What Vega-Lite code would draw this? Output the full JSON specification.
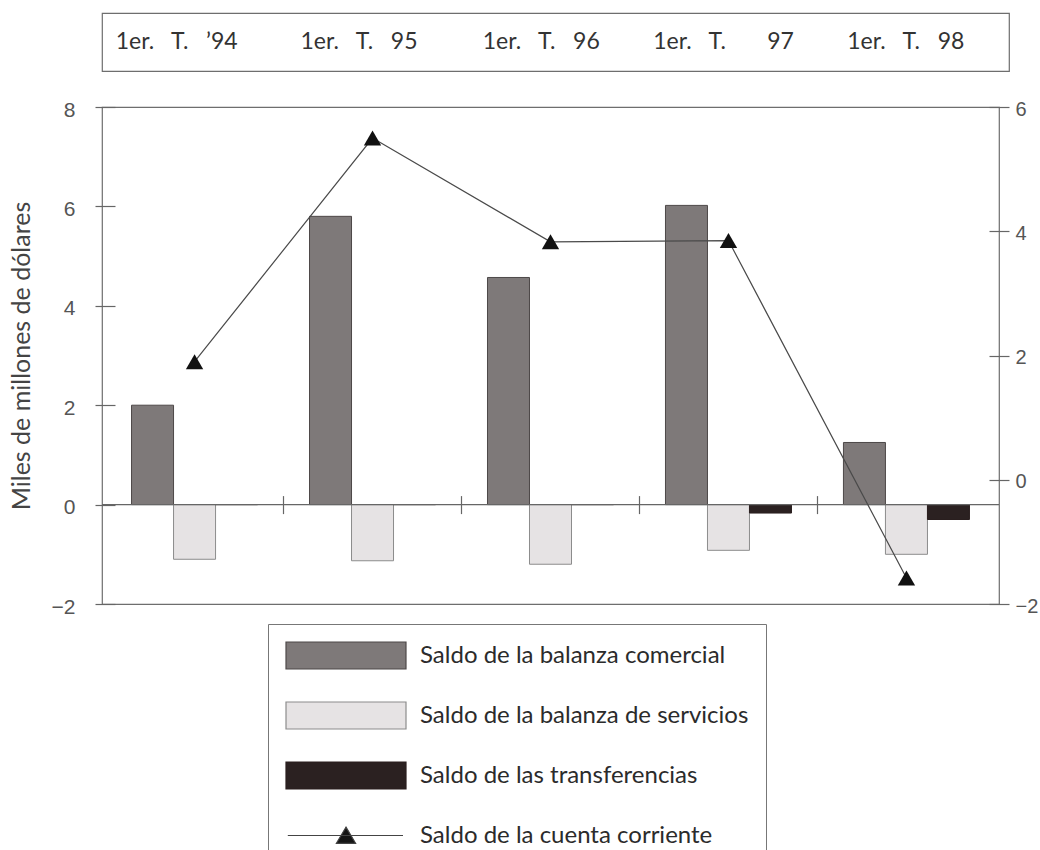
{
  "$schema": "https://vega.github.io/schema/vega-lite/v6.json",
  "background": "white",
  "padding": {"left": 8, "top": 12, "right": 0, "bottom": 0},
  "config": {
    "font": "Lato",
    "axis": {"grid": false},
    "view": {"stroke": "#6e6e6e", "strokeWidth": 1.2}
  },
  "datasets": {
    "periodos": [
      {"periodo": "1994", "etiqueta": "1er.\u00a0\u00a0\u00a0T.\u00a0\u00a0\u00a0’94"},
      {"periodo": "1995", "etiqueta": "1er.\u00a0\u00a0\u00a0T.\u00a0\u00a0\u00a095"},
      {"periodo": "1996", "etiqueta": "1er.\u00a0\u00a0\u00a0T.\u00a0\u00a0\u00a096"},
      {"periodo": "1997", "etiqueta": "1er.\u00a0\u00a0\u00a0T.\u00a0\u00a0\u00a0\u00a0\u00a0\u00a0\u00a097"},
      {"periodo": "1998", "etiqueta": "1er.\u00a0\u00a0\u00a0T.\u00a0\u00a0\u00a098"}
    ],
    "barras": [
      {"periodo": "1994", "serie": "Saldo de la balanza comercial", "valor": 2.0},
      {"periodo": "1994", "serie": "Saldo de la balanza de servicios", "valor": -1.1},
      {"periodo": "1994", "serie": "Saldo de las transferencias", "valor": 0},
      {"periodo": "1995", "serie": "Saldo de la balanza comercial", "valor": 5.8},
      {"periodo": "1995", "serie": "Saldo de la balanza de servicios", "valor": -1.13},
      {"periodo": "1995", "serie": "Saldo de las transferencias", "valor": 0},
      {"periodo": "1996", "serie": "Saldo de la balanza comercial", "valor": 4.57},
      {"periodo": "1996", "serie": "Saldo de la balanza de servicios", "valor": -1.2},
      {"periodo": "1996", "serie": "Saldo de las transferencias", "valor": 0},
      {"periodo": "1997", "serie": "Saldo de la balanza comercial", "valor": 6.02},
      {"periodo": "1997", "serie": "Saldo de la balanza de servicios", "valor": -0.92},
      {"periodo": "1997", "serie": "Saldo de las transferencias", "valor": -0.17},
      {"periodo": "1998", "serie": "Saldo de la balanza comercial", "valor": 1.25},
      {"periodo": "1998", "serie": "Saldo de la balanza de servicios", "valor": -1.0},
      {"periodo": "1998", "serie": "Saldo de las transferencias", "valor": -0.3}
    ],
    "cuenta": [
      {"periodo": "1994", "valor": 1.9},
      {"periodo": "1995", "valor": 5.5},
      {"periodo": "1996", "valor": 3.83},
      {"periodo": "1997", "valor": 3.85},
      {"periodo": "1998", "valor": -1.58}
    ]
  },
  "spacing": 26,
  "resolve": {
    "scale": {"fill": "independent", "stroke": "independent"},
    "legend": {"fill": "independent", "stroke": "independent"}
  },
  "vconcat": [
    {
      "data": {"name": "periodos"},
      "width": 907,
      "height": 58,
      "view": {"stroke": "#6e6e6e", "strokeWidth": 1.2},
      "mark": {"type": "text", "font": "Lato", "fontSize": 23, "color": "#333333", "baseline": "middle", "align": "center"},
      "encoding": {
        "x": {"field": "periodo", "type": "nominal", "sort": null, "scale": {"type": "point", "padding": 0.488, "align": 0.42}, "axis": null},
        "text": {"field": "etiqueta"}
      }
    },
    {
      "width": 897,
      "height": 497,
      "view": {"stroke": "#6e6e6e", "strokeWidth": 1.2},
      "resolve": {"scale": {"y": "independent"}},
      "layer": [
        {
          "layer": [
            {
              "data": {"name": "barras"},
              "mark": {"type": "bar", "strokeWidth": 1},
              "encoding": {
                "x": {
                  "field": "periodo", "type": "nominal", "sort": null,
                  "scale": {"paddingInner": 0.292, "paddingOuter": 0.166},
                  "axis": {
                    "orient": "bottom", "offset": -108.4, "labels": false, "domain": false,
                    "ticks": true, "tickSize": 18, "tickColor": "#666666", "tickWidth": 1.2,
                    "title": null, "values": ["1994", "1995", "1996", "1997"], "bandPosition": 1.206
                  }
                },
                "xOffset": {
                  "field": "serie", "type": "nominal",
                  "sort": ["Saldo de la balanza comercial", "Saldo de la balanza de servicios", "Saldo de las transferencias"],
                  "scale": {"paddingInner": 0, "paddingOuter": 0}
                },
                "y": {
                  "field": "valor", "type": "quantitative",
                  "scale": {"domain": [-2, 8], "nice": false, "zero": false},
                  "axis": {
                    "orient": "left", "values": [-2, 0, 2, 4, 6, 8], "format": "d", "offset": -13, "tickSize": 20,
                    "domain": false, "tickColor": "#666666", "tickWidth": 1.2, "labelPadding": 20,
                    "labelFont": "Liberation Sans", "labelFontSize": 21, "labelColor": "#555555",
                    "labelFlush": false, "labelOffset": 3,
                    "title": "Miles de millones de dólares", "titleFont": "Lato", "titleFontSize": 25,
                    "titleFontWeight": "normal", "titleColor": "#444444", "titlePadding": 17
                  }
                },
                "fill": {
                  "field": "serie", "type": "nominal",
                  "scale": {
                    "domain": ["Saldo de la balanza comercial", "Saldo de la balanza de servicios", "Saldo de las transferencias", "Saldo de la cuenta corriente"],
                    "range": ["#7e7979", "#e6e3e4", "#2b2121", "#151515"]
                  },
                  "legend": {
                    "orient": "none", "legendX": 166, "legendY": 517, "title": null, "direction": "vertical",
                    "symbolSize": 14400, "symbolType": "M-1,-0.225H1V0.225H-1Z",
                    "labelFont": "Lato", "labelFontSize": 24, "labelColor": "#2b2b2b", "labelOffset": 13, "labelLimit": 600,
                    "padding": 17, "strokeColor": "#777777", "fillColor": "white",
                    "rowPadding": 31, "clipHeight": 29,
                    "encode": {
                      "symbols": {
                        "update": {
                          "shape": {"signal": "datum.value === 'Saldo de la cuenta corriente' ? 'M-0.97,0H0.95M0,-0.14L0.16,0.13L-0.16,0.13Z' : 'M-1,-0.225H1V0.225H-1Z'"},
                          "stroke": {"signal": "datum.value === 'Saldo de la balanza comercial' ? '#4d4848' : datum.value === 'Saldo de la balanza de servicios' ? '#8c8c8c' : datum.value === 'Saldo de las transferencias' ? '#2a1f1f' : '#444444'"},
                          "strokeWidth": {"value": 1.2},
                          "fill": {"scale": "fill", "field": "value"},
                          "opacity": {"value": 1}
                        }
                      }
                    }
                  }
                },
                "stroke": {
                  "field": "serie", "type": "nominal",
                  "scale": {
                    "domain": ["Saldo de la balanza comercial", "Saldo de la balanza de servicios", "Saldo de las transferencias"],
                    "range": ["#4d4848", "#8c8c8c", "#2a1f1f"]
                  },
                  "legend": null
                }
              }
            },
            {
              "data": {"values": [{}]},
              "mark": {"type": "rule", "color": "#666666", "strokeWidth": 1.2},
              "encoding": {"y": {"datum": 0}}
            }
          ]
        },
        {
          "data": {"name": "cuenta"},
          "layer": [
            {
              "mark": {"type": "line", "color": "#4a4a4a", "strokeWidth": 1.2},
              "encoding": {
                "x": {"field": "periodo", "type": "nominal", "sort": null},
                "y": {
                  "field": "valor", "type": "quantitative",
                  "scale": {"domain": [-2, 6], "nice": false, "zero": false},
                  "axis": {
                    "orient": "right", "values": [-2, 0, 2, 4, 6], "format": "d", "offset": -10, "tickSize": 20,
                    "domain": false, "tickColor": "#666666", "tickWidth": 1.2, "labelPadding": 6,
                    "labelFont": "Liberation Sans", "labelFontSize": 20, "labelColor": "#555555",
                    "labelFlush": false, "labelOffset": 2, "title": null
                  }
                }
              }
            },
            {
              "mark": {"type": "point", "shape": "triangle-up", "filled": true, "color": "#111111", "size": 300, "opacity": 1},
              "encoding": {
                "x": {"field": "periodo", "type": "nominal", "sort": null},
                "y": {"field": "valor", "type": "quantitative"}
              }
            }
          ]
        }
      ]
    }
  ]
}
